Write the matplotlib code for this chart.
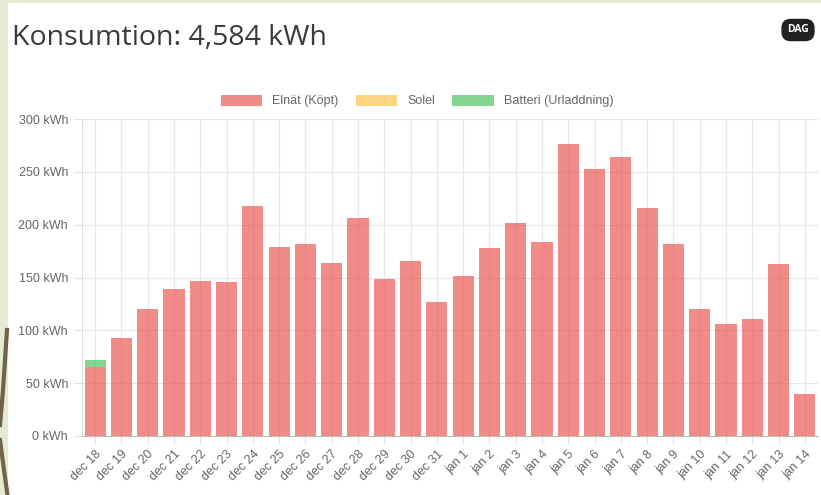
import matplotlib.pyplot as plt
from matplotlib.patches import Rectangle
from matplotlib.lines import Line2D
import numpy as np

days=["dec 18","dec 19","dec 20","dec 21","dec 22","dec 23","dec 24","dec 25","dec 26","dec 27","dec 28","dec 29","dec 30","dec 31",
      "jan 1","jan 2","jan 3","jan 4","jan 5","jan 6","jan 7","jan 8","jan 9","jan 10","jan 11","jan 12","jan 13","jan 14"]
elnat=[65,93,120,139,147,146,218,179,182,164,206,149,166,127,
       151,178,202,184,276,253,264,216,182,120,106,111,163,40]
solel=[0]*28
batteri=[7]+[0]*27
yticks=[0,50,100,150,200,250,300]

plt.rcParams["font.family"]=["Liberation Sans","DejaVu Sans"]
W,H=821,495
fig=plt.figure(figsize=(W/100,H/100),dpi=100)
fig.patch.set_facecolor("#e4ebd2")
# white card
fig.add_artist(Rectangle((8/W,0),1,1-3/H,transform=fig.transFigure,facecolor="white",edgecolor="none",zorder=0))
# dark decoration on the left edge
fig.add_artist(Line2D([7/W,3/W,0],[1-330/H,1-390/H,1-425/H],transform=fig.transFigure,color="#6e6548",lw=3,zorder=1))
fig.add_artist(Line2D([0,4/W,7.5/W],[1-440/H,1-470/H,0],transform=fig.transFigure,color="#6e6548",lw=3,zorder=1))

ax=fig.add_axes([82/W,1-436/H,(818-82)/W,(436-119)/H])
ax.set_facecolor("none")
x=np.arange(len(days))
red=(0.918,0.33,0.31,0.68)
yellow=(1.0,0.78,0.35,0.75)
green=(0.35,0.78,0.42,0.75)
ax.bar(x,elnat,width=0.8,color=red,label="Elnät (Köpt)",zorder=2)
ax.bar(x,solel,width=0.8,bottom=elnat,color=yellow,label="Solel",zorder=2)
ax.bar(x,batteri,width=0.8,bottom=np.array(elnat)+np.array(solel),color=green,label="Batteri (Urladdning)",zorder=2)

ax.set_xlim(-0.5,len(days)-0.5)
ax.set_ylim(0,300)
ax.set_yticks(yticks)
ax.set_yticklabels([f"{v} kWh" for v in yticks])
ax.set_xticks(x)
ax.set_xticklabels(days,rotation=45,ha="right",rotation_mode="anchor")
ax.grid(True,color="#e6e6e6",lw=0.8,zorder=0)
ax.set_axisbelow(True)
ax.tick_params(axis="both",colors="#666666",labelsize=9,length=6,width=0.8)
ax.tick_params(axis="x",color="#e0e0e0",pad=3)
ax.tick_params(axis="y",color="#e0e0e0",pad=4)
for s in ["top","right"]:
    ax.spines[s].set_visible(False)
ax.spines["left"].set_color("#dddddd")
ax.spines["bottom"].set_color("#bbbbbb")

fig.legend(loc="center",bbox_to_anchor=(417/W,1-101/H),ncol=3,frameon=False,fontsize=9,
           handlelength=3.3,handleheight=1.0,columnspacing=1.4,handletextpad=0.8,labelcolor="#666666")

fig.text(12/W,1-38/H,"Konsumtion: 4,584 kWh",fontsize=20.5,color="#3a3a3a",va="center",ha="left",family="Open Sans")
fig.text(798/W,1-30/H,"DAG",fontsize=7.5,color="white",fontweight="bold",ha="center",va="center",
         family="Open Sans",
         bbox=dict(boxstyle="round,pad=0.55,rounding_size=0.9",facecolor="#222222",edgecolor="none"))

fig.savefig("out.png",dpi=100)
